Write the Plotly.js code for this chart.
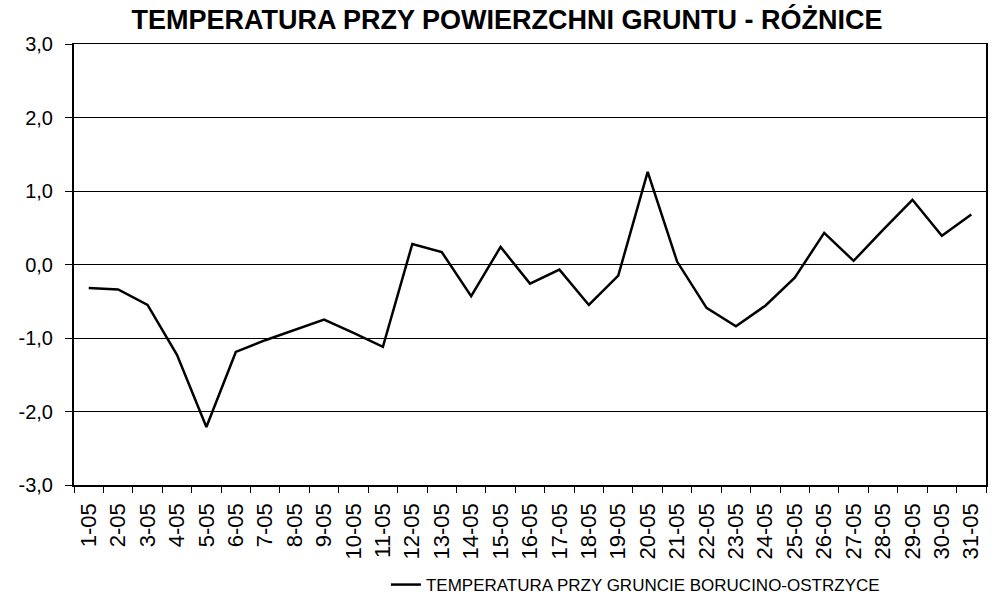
<!DOCTYPE html>
<html>
<head>
<meta charset="utf-8">
<script src="https://cdn.plot.ly/plotly-3.0.1.min.js"></script>
<style>html,body{margin:0;padding:0;background:#fff;}#chart{width:996px;height:598px;}</style>
</head>
<body>
<div id="chart"></div>
<script>
const days = ["1-05","2-05","3-05","4-05","5-05","6-05","7-05","8-05","9-05","10-05","11-05","12-05","13-05","14-05","15-05","16-05","17-05","18-05","19-05","20-05","21-05","22-05","23-05","24-05","25-05","26-05","27-05","28-05","29-05","30-05","31-05"];
const diffValues = [-0.32,-0.34,-0.55,-1.23,-2.21,-1.19,-1.03,-0.89,-0.75,-0.93,-1.12,0.28,0.17,-0.43,0.24,-0.26,-0.07,-0.55,-0.15,1.26,0.04,-0.59,-0.84,-0.56,-0.18,0.43,0.05,0.47,0.88,0.39,0.68];
const yTickValues = [-3,-2,-1,0,1,2,3];
const yTickLabels = ["-3,0","-2,0","-1,0","0,0","1,0","2,0","3,0"];
const seriesName = "TEMPERATURA PRZY GRUNCIE BORUCINO-OSTRZYCE";
const chartTitle = "TEMPERATURA PRZY POWIERZCHNI GRUNTU - RÓŻNICE";

const trace = {
  x: days, y: diffValues, type: "scatter", mode: "lines", name: seriesName,
  line: {color: "#000000", width: 2.5}, showlegend: true
};
const layout = {
  width: 996, height: 598,
  margin: {l: 74, r: 10, t: 44, b: 113, pad: 0, autoexpand: false},
  paper_bgcolor: "#ffffff", plot_bgcolor: "#ffffff",
  font: {family: "Liberation Sans, Arial, sans-serif", color: "#000000"},
  title: {text: "<b>" + chartTitle + "</b>", font: {size: 27, family: "Liberation Sans, Arial, sans-serif", color: "#000"}, xref: "container", x: 0.509, xanchor: "center", yref: "container", y: 0.968, yanchor: "middle"},
  xaxis: {
    type: "category", range: [-0.5, 30.5], tickangle: -90, automargin: false,
    tickson: "boundaries", ticks: "outside", ticklen: 6, tickwidth: 1, tickcolor: "#000",
    showgrid: false, showline: true, linecolor: "#000", linewidth: 1.5, mirror: true,
    tickfont: {size: 22}, ticklabelstandoff: 8, fixedrange: true
  },
  yaxis: {
    range: [-3, 3], tickvals: yTickValues, ticktext: yTickLabels, automargin: false,
    ticks: "outside", ticklen: 7, tickwidth: 1, tickcolor: "#000",
    showgrid: true, gridcolor: "#000", gridwidth: 1, zeroline: false,
    showline: true, linecolor: "#000", linewidth: 2, mirror: true,
    tickfont: {size: 20}, ticklabelstandoff: 8, fixedrange: true
  },
  showlegend: true,
  legend: {orientation: "h", x: 0.342, xanchor: "left", y: 0.0217, yanchor: "middle", yref: "container",
    font: {size: 17}, bgcolor: "rgba(0,0,0,0)"}
};
Plotly.newPlot("chart", [trace], layout, {displayModeBar: false, staticPlot: true});
</script>
</body>
</html>
